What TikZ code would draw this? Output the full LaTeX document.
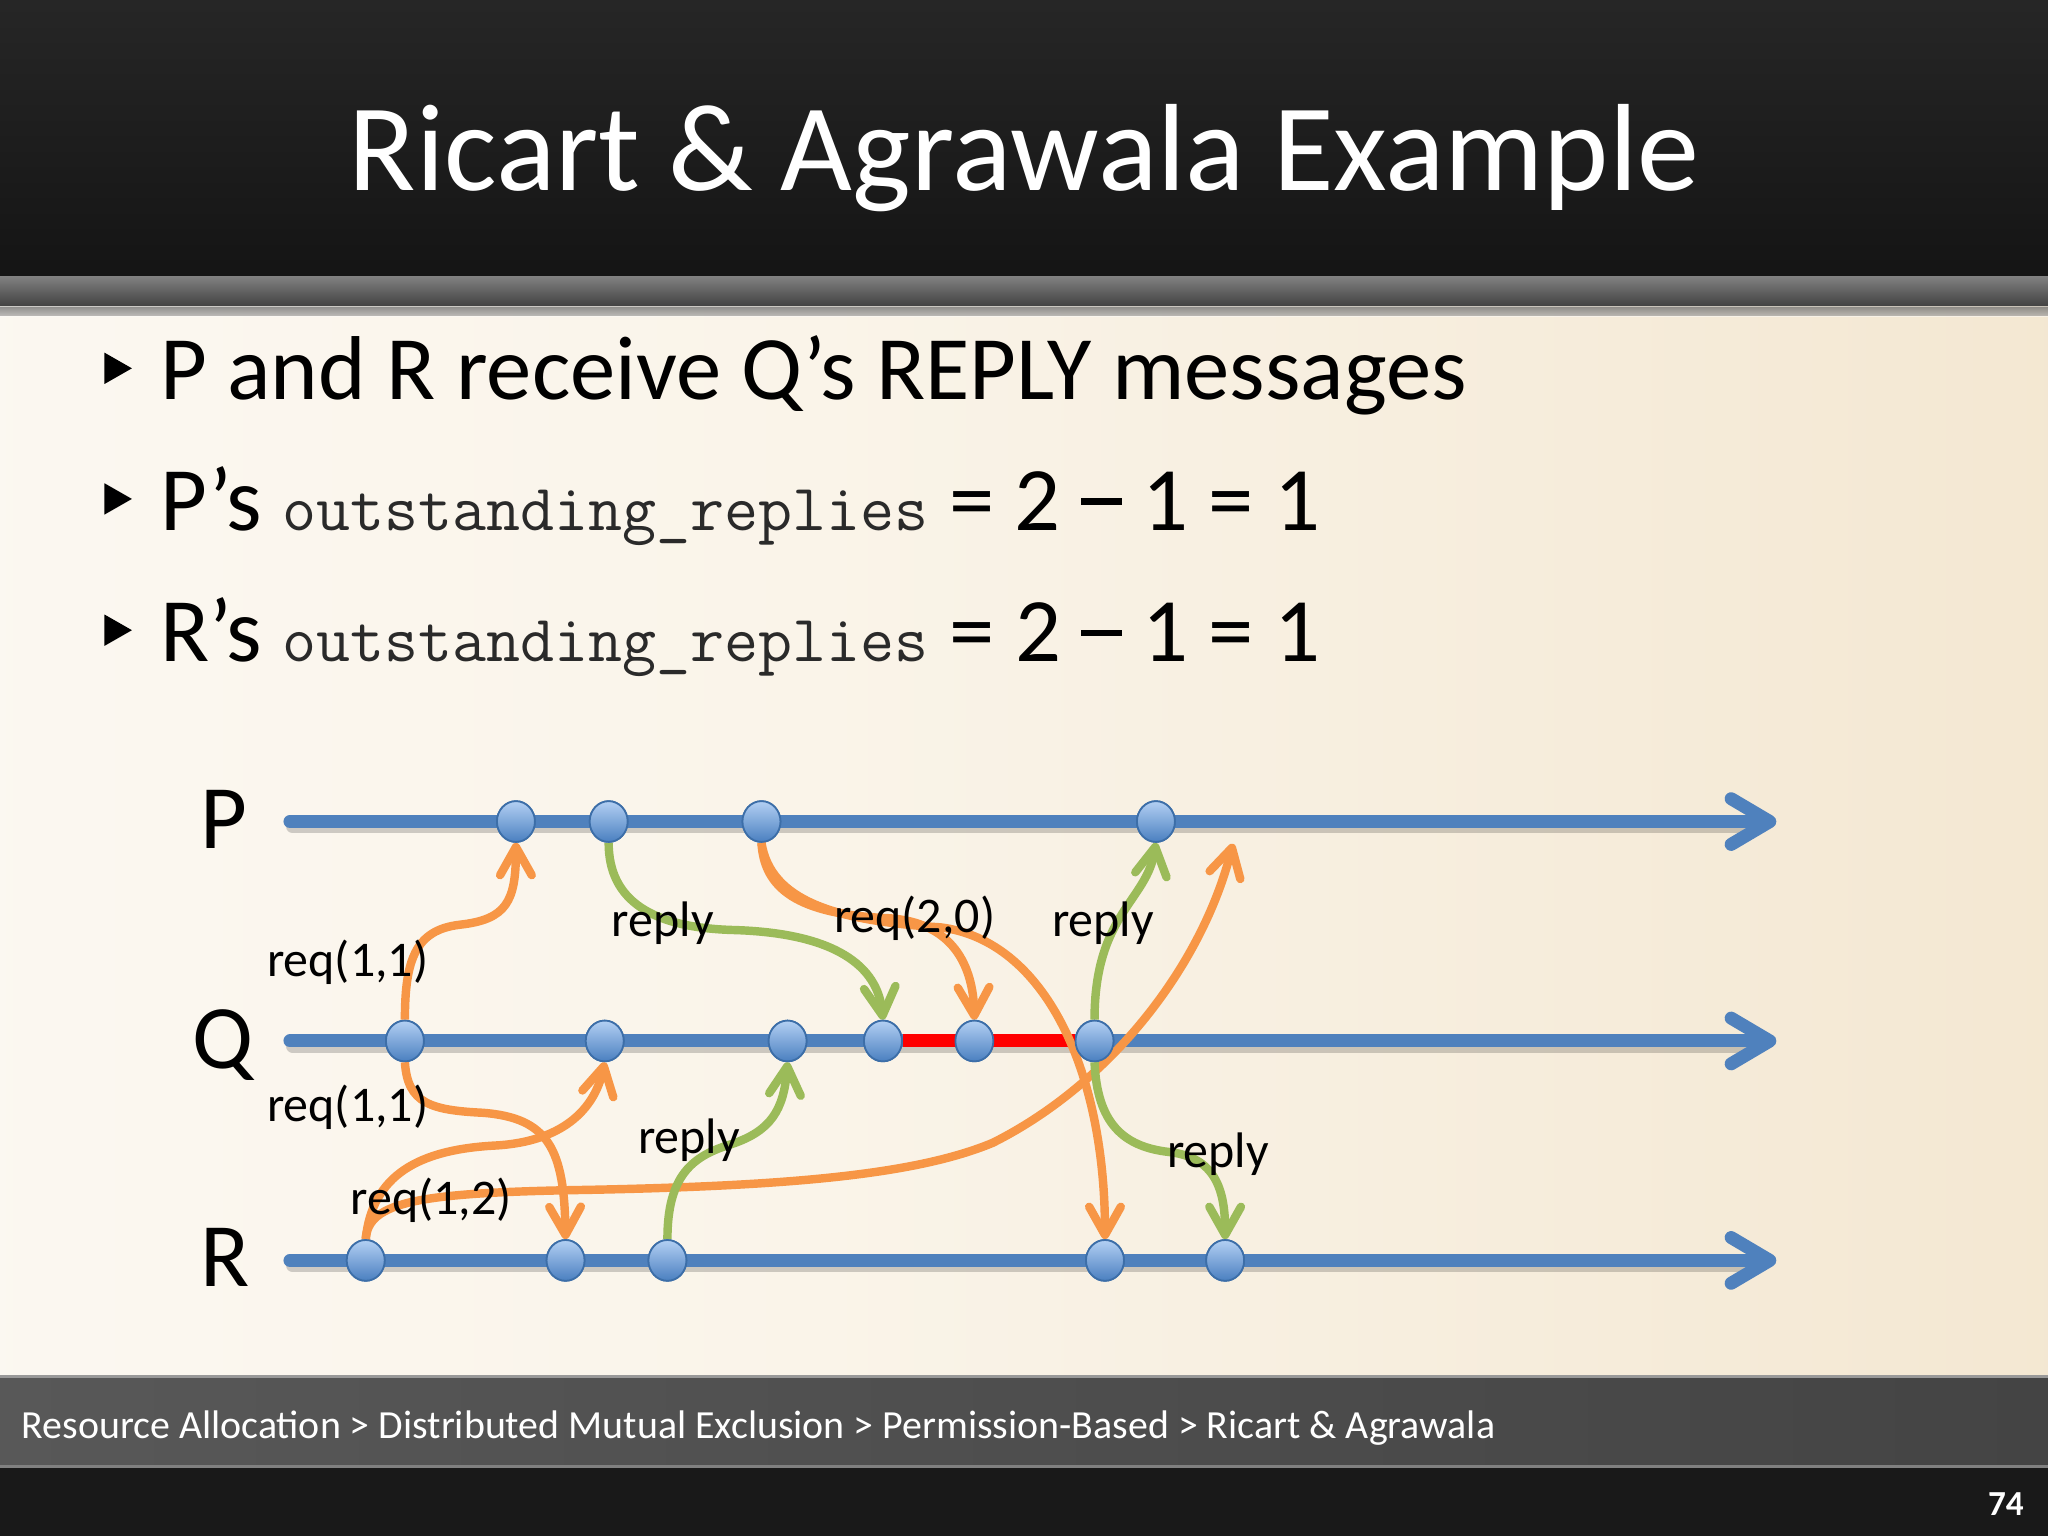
\documentclass[tikz,border=0pt]{standalone}
\usepackage{fontspec}
\setmainfont{Carlito}
\usetikzlibrary{arrows.meta,shapes.geometric}
\definecolor{tlblue}{HTML}{4F81BD}
\definecolor{msgorange}{HTML}{F79646}
\definecolor{msggreen}{HTML}{9BBB59}
\definecolor{evtborder}{HTML}{3C6EA8}
\definecolor{evttop}{HTML}{B3D0F3}
\definecolor{evtbot}{HTML}{4A7FC0}
\definecolor{bgA}{HTML}{FDFCFA}
\definecolor{bgB}{HTML}{FAF4E9}
\definecolor{bgC}{HTML}{EEDDBF}
\definecolor{ftA}{HTML}{626262}
\definecolor{ftB}{HTML}{3A3A3A}
\definecolor{codegray}{HTML}{2A2A2A}
\pgfdeclarehorizontalshading{contentbg}{100bp}{color(0bp)=(bgA); color(45bp)=(bgB); color(100bp)=(bgC)}
\pgfdeclarehorizontalshading{footbg}{100bp}{color(0bp)=(ftA); color(100bp)=(ftB)}
\tikzset{
  tline/.style={line width=3.7pt, draw=tlblue, line cap=round, -{Straight Barb[length=11pt,width=13pt,round]}},
  tshadow/.style={line width=3.7pt, draw=black, opacity=0.18, line cap=round},
  msgo/.style={line width=2.4pt, draw=msgorange, -{Straight Barb[length=8pt,width=9pt,round]}},
  msgg/.style={line width=2.4pt, draw=msggreen, -{Straight Barb[length=8pt,width=9pt,round]}},
  evt/.style={ellipse, minimum width=10.8pt, minimum height=11.6pt, inner sep=0pt, draw=evtborder, line width=0.5pt, top color=evttop, bottom color=evtbot},
  lbl/.style={font=\fontsize{14.2pt}{17pt}\selectfont, anchor=base west, inner sep=0pt, text=black},
  proc/.style={font=\fontsize{25.8pt}{30pt}\selectfont, anchor=base west, inner sep=0pt, text=black},
  bul/.style={font=\fontsize{25.8pt}{30pt}\selectfont, anchor=base west, inner sep=0pt, text=black},
}
\newcommand{\codetxt}[1]{{\ttfamily\fontsize{18.8pt}{21pt}\selectfont\color{codegray}#1}}
\newcommand{\wdash}{\rule[7.3pt]{11.5pt}{1.8pt}}
\begin{document}
\begin{tikzpicture}[x=0.013061cm,y=-0.013061cm]
\useasboundingbox (0,0) rectangle (1568,1176);
% backgrounds
\fill[black!88] (0,0) rectangle (1568,1176);
\fill[top color=black!85, bottom color=black!92] (0,0) rectangle (1568,212);
\fill[top color=black!50, bottom color=black!75] (0,212) rectangle (1568,235);
\fill[shading=contentbg] (0,235) rectangle (1568,1053);
\fill[top color=black!35, bottom color=bgA, opacity=0.5] (0,235) rectangle (1568,242);
\fill[shading=footbg] (0,1053) rectangle (1568,1123);
\draw[black!40, line width=0.8pt] (0,1054) -- (1568,1054);
\draw[black!50, line width=0.8pt] (0,1123) -- (1568,1123);
\fill[black!90] (0,1124) rectangle (1568,1176);
% title
\node[font=\fontsize{35.3pt}{42pt}\selectfont, text=white, anchor=base, inner sep=0pt] (title) at (784,145.5) {Ricart \& Agrawala Example};
% bullets
\fill[black] (80,270) -- (101,282) -- (80,294) -- cycle;
\fill[black] (80,370) -- (101,382) -- (80,394) -- cycle;
\fill[black] (80,470.5) -- (101,482.5) -- (80,494.5) -- cycle;
\node[bul] (b1) at (122,306) {P and R receive Q’s REPLY messages};
\node[bul] (b2) at (122,406) {P’s \codetxt{outstanding\_replies} = 2 \wdash{} 1 = 1};
\node[bul] (b3) at (122,506.5) {R’s \codetxt{outstanding\_replies} = 2 \wdash{} 1 = 1};
% process labels
\node[proc] (lp) at (153,650) {P};
\node[proc] (lq) at (147,818) {Q};
\node[proc] (lr) at (153,985) {R};
% timelines
\coordinate (ps) at (222,629); \coordinate (pe) at (1360,629);
\coordinate (qs) at (222,797); \coordinate (qe) at (1360,797);
\coordinate (rs) at (222,965); \coordinate (re) at (1360,965);
\draw[tshadow] ([shift={(2,4)}]ps) -- ([shift={(2,4)}]1330,629);
\draw[tshadow] ([shift={(2,4)}]qs) -- ([shift={(2,4)}]1330,797);
\draw[tshadow] ([shift={(2,4)}]rs) -- ([shift={(2,4)}]1330,965);
\draw[tline] (ps) -- (pe);
\draw[tline] (qs) -- (qe);
\draw[tline] (rs) -- (re);
% event nodes
\node[evt] (p1) at (395,629) {};
\node[evt] (p2) at (466,629) {};
\node[evt] (p3) at (583,629) {};
\node[evt] (p4) at (885,629) {};
\node[evt] (q1) at (310,797) {};
\node[evt] (q2) at (463,797) {};
\node[evt] (q3) at (603,797) {};
\node[evt] (q4) at (676,797) {};
\node[evt] (q5) at (746,797) {};
\node[evt] (q6) at (838,797) {};
\node[evt] (r1) at (280,965) {};
\node[evt] (r2) at (433,965) {};
\node[evt] (r3) at (511,965) {};
\node[evt] (r4) at (846,965) {};
\node[evt] (r5) at (938,965) {};
\coordinate (pfree) at (944,646);
% critical section
\draw[red, line width=3.7pt] (q4) -- (q6);
% messages
\draw[msgo] (q1.north) .. controls (310,735) and (318,712) .. (352,708) .. controls (388,704) and (395,690) .. (p1.south);
\draw[msgo] (q1.south) .. controls (312,845) and (330,850) .. (370,852) .. controls (420,856) and (432,880) .. (r2.north);
\draw[msgo] (r1.north) .. controls (285,900) and (320,880) .. (380,877) .. controls (430,874) and (455,850) .. (q2.south);
\draw[msgo] (r1.north) .. controls (282,920) and (320,913) .. (450,911) .. controls (600,908) and (700,900) .. (760,875) .. controls (850,830) and (920,740) .. (pfree);
\draw[msgg] (p2.south) .. controls (466,690) and (500,710) .. (560,712) .. controls (640,714) and (672,740) .. (q4.north);
\draw[msgo] (p3.south) .. controls (585,680) and (610,700) .. (680,703) .. controls (730,706) and (745,740) .. (q5.north);
\draw[msgo] (p3.south) .. controls (590,690) and (640,705) .. (720,710) .. controls (800,720) and (846,820) .. (r4.north);
\draw[msgg] (r3.north) .. controls (511,900) and (530,885) .. (560,876) .. controls (590,866) and (600,850) .. (q3.south);
\draw[msgg] (q6.north) .. controls (838,700) and (878,690) .. (p4.south);
\draw[msgg] (q6.south) .. controls (840,860) and (860,878) .. (895,882) .. controls (930,886) and (938,910) .. (r5.north);
% redraw nodes on top
\foreach \n in {p1,p2,p3,p4,q1,q2,q3,q4,q5,q6,r1,r2,r3,r4,r5}{
  \node[evt] at (\n.center) {};
}
% message labels
\node[lbl] (l1) at (204,748) {req(1,1)};
\node[lbl] (l2) at (204,859) {req(1,1)};
\node[lbl] (l3) at (268,930) {req(1,2)};
\node[lbl] (l4) at (468,717) {reply};
\node[lbl] (l5) at (638,714) {req(2,0)};
\node[lbl] (l6) at (805,717) {reply};
\node[lbl] (l7) at (488,883) {reply};
\node[lbl] (l8) at (893,894) {reply};
% footer
\node[font=\fontsize{11.35pt}{13pt}\selectfont, text=white, anchor=base west, inner sep=0pt] (foot) at (16,1101) {Resource Allocation > Distributed Mutual Exclusion > Permission-Based > Ricart \& Agrawala};
\node[font=\fontsize{10pt}{12pt}\selectfont\bfseries, text=white, anchor=base east, inner sep=0pt] (pg) at (1550,1160) {74};
\end{tikzpicture}
\end{document}
